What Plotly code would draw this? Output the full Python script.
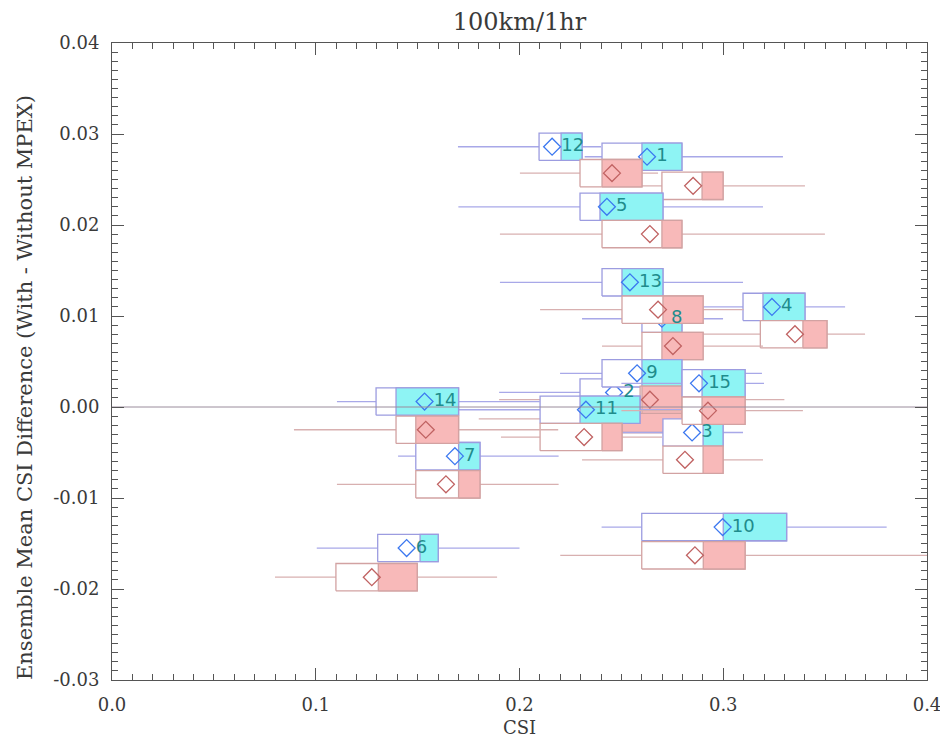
import plotly.graph_objects as go

# ---------------- data ----------------
cases = [1, 2, 3, 4, 5, 6, 7, 8, 9, 10, 11, 12, 13, 14, 15]

# "With MPEX" (blue) boxes: whisker min, box low, split, box high, whisker max, diamond x, diamond y
blue_wmin = [0.232, 0.190, 0.240, 0.285, 0.170, 0.1005, 0.1404, 0.2307, 0.2199, 0.2403, 0.170, 0.1698, 0.1904, 0.1104, 0.250]
blue_lo   = [0.2405, 0.2297, 0.2704, 0.3097, 0.2297, 0.1304, 0.1491, 0.2601, 0.2405, 0.2600, 0.2101, 0.2096, 0.2405, 0.1296, 0.2798]
blue_mid  = [0.2601, 0.2620, 0.2901, 0.3195, 0.2395, 0.1512, 0.1701, 0.2699, 0.2601, 0.3000, 0.2297, 0.2204, 0.2503, 0.1394, 0.2896]
blue_hi   = [0.2797, 0.2800, 0.2999, 0.3401, 0.2704, 0.1601, 0.1806, 0.2797, 0.2797, 0.3311, 0.2591, 0.2307, 0.2704, 0.1701, 0.3107]
blue_wmax = [0.3293, 0.300, 0.3097, 0.3598, 0.3195, 0.200, 0.2192, 0.2999, 0.3190, 0.3802, 0.290, 0.240, 0.3097, 0.210, 0.320]
blue_mean = [0.2626, 0.2464, 0.2847, 0.3239, 0.2429, 0.1446, 0.1683, 0.2699, 0.2577, 0.2997, 0.2326, 0.2160, 0.2542, 0.1534, 0.2881]
blue_y    = [0.0275, 0.0016, -0.0028, 0.0110, 0.0220, -0.0155, -0.0054, 0.0097, 0.0037, -0.0132, -0.0003, 0.0286, 0.0137, 0.0006, 0.0026]

# "Without MPEX" (red) boxes
red_wmin = [0.250, 0.180, 0.2307, 0.280, 0.1904, 0.080, 0.1104, 0.2405, 0.190, 0.220, 0.1909, 0.2002, 0.2101, 0.0893, 0.250]
red_lo   = [0.2699, 0.235, 0.2704, 0.3182, 0.2405, 0.1099, 0.1491, 0.2601, 0.2592, 0.2600, 0.2101, 0.2297, 0.2503, 0.1394, 0.2798]
red_mid  = [0.2896, 0.2503, 0.2901, 0.3391, 0.2699, 0.1307, 0.1701, 0.2699, 0.2601, 0.2902, 0.2405, 0.2405, 0.2704, 0.1491, 0.2896]
red_hi   = [0.2999, 0.2797, 0.2999, 0.3509, 0.2797, 0.1498, 0.1806, 0.2901, 0.2797, 0.3107, 0.2503, 0.2601, 0.2901, 0.1701, 0.3107]
red_wmax = [0.3401, 0.310, 0.3195, 0.3696, 0.3499, 0.189, 0.2192, 0.3195, 0.330, 0.400, 0.270, 0.268, 0.310, 0.219, 0.3391]
red_mean = [0.2852, 0.245, 0.2812, 0.3352, 0.2640, 0.1275, 0.1639, 0.2753, 0.2640, 0.2861, 0.2317, 0.2454, 0.2680, 0.1540, 0.2925]
red_y    = [0.0243, -0.0013, -0.0058, 0.0080, 0.0190, -0.0187, -0.0085, 0.0067, 0.0008, -0.0163, -0.0033, 0.0257, 0.0107, -0.0025, -0.0004]

x_ticks = [0.0, 0.1, 0.2, 0.3, 0.4]
x_ticktext = ["0.0", "0.1", "0.2", "0.3", "0.4"]
y_ticks = [-0.03, -0.02, -0.01, 0.0, 0.01, 0.02, 0.03, 0.04]
y_ticktext = ["-0.03", "-0.02", "-0.01", "0.00", "0.01", "0.02", "0.03", "0.04"]

# ---------------- style ----------------
HALF_H = 0.0015
BLUE_FILL, BLUE_EDGE, BLUE_WHISK, BLUE_DIAM = "#8ef4f4", "#9c9ce0", "#a8a8e8", "#3c78f0"
RED_FILL, RED_EDGE, RED_WHISK, RED_DIAM = "#f8b9b9", "#d2a2a2", "#d8b0b0", "#c06262"
LABEL_COLOR = "#1f8c8c"
AXIS_COLOR = "#555555"
SERIF = "DejaVu Serif"
TEXT_COLOR = "#3a3a3a"
DIAMOND = dict(symbol="diamond-open", size=13)

# figure geometry (page body has an 8px margin; 932x731 figure -> 948x747 page)
W, H = 932, 731
ML, MR, MT, MB = 104, 13, 35, 59
PW, PH = W - ML - MR, H - MT - MB

fig = go.Figure()


def add_rect(x0, x1, yc, fill, edge):
    fig.add_trace(go.Scatter(
        x=[x0, x1, x1, x0, x0],
        y=[yc - HALF_H, yc - HALF_H, yc + HALF_H, yc + HALF_H, yc - HALF_H],
        mode="lines", fill="toself", fillcolor=fill,
        line=dict(color=edge, width=1.3),
        hoverinfo="skip", showlegend=False))


def add_box(wmin, lo, mid, hi, wmax, mean, yc, fill, edge, whisk, diam):
    fig.add_trace(go.Scatter(x=[wmin, wmax], y=[yc, yc], mode="lines",
                             line=dict(color=whisk, width=1.3),
                             hoverinfo="skip", showlegend=False))
    add_rect(lo, hi, yc, "white", edge)
    add_rect(mid, hi, yc, fill, edge)
    fig.add_trace(go.Scatter(x=[mean], y=[yc], mode="markers",
                             marker=dict(**DIAMOND, color=diam, line=dict(width=1.3, color=diam)),
                             hoverinfo="skip", showlegend=False))


for i, c in enumerate(cases):
    add_box(blue_wmin[i], blue_lo[i], blue_mid[i], blue_hi[i], blue_wmax[i],
            blue_mean[i], blue_y[i], BLUE_FILL, BLUE_EDGE, BLUE_WHISK, BLUE_DIAM)
    add_box(red_wmin[i], red_lo[i], red_mid[i], red_hi[i], red_wmax[i],
            red_mean[i], red_y[i], RED_FILL, RED_EDGE, RED_WHISK, RED_DIAM)

# zero reference line across the plot
fig.add_trace(go.Scatter(x=[x_ticks[0], x_ticks[-1]], y=[0, 0], mode="lines",
                         line=dict(color="#9a8c9c", width=1),
                         hoverinfo="skip", showlegend=False))

# case-number labels drawn on top of everything, right of the blue diamonds
fig.add_trace(go.Scatter(x=blue_mean, y=blue_y, mode="markers+text",
                         text=[str(c) for c in cases], textposition="middle right",
                         textfont=dict(family="DejaVu Sans", size=18, color=LABEL_COLOR),
                         marker=dict(**DIAMOND, color="rgba(0,0,0,0)"),
                         hoverinfo="skip", showlegend=False))

axis_common = dict(
    showgrid=False, zeroline=False, showline=True, linecolor=AXIS_COLOR, linewidth=1,
    mirror="ticks", ticks="inside", ticklen=12, tickcolor=AXIS_COLOR, tickwidth=1,
    tickfont=dict(family=SERIF, size=18, color=TEXT_COLOR), ticklabeloverflow="allow",
    automargin=False,
)

fig.update_layout(
    width=W, height=H,
    margin=dict(l=ML, r=MR, t=MT, b=MB, autoexpand=False),
    paper_bgcolor="white", plot_bgcolor="white",
    title=dict(text="100km/1hr", x=0.5, xref="paper", y=1 - 14 / H, yref="container",
               yanchor="middle", xanchor="center",
               font=dict(family=SERIF, size=24, color=TEXT_COLOR)),
    xaxis=dict(range=[0, 0.4], tickvals=x_ticks, ticktext=x_ticktext,
               minor=dict(dtick=0.01, tick0=0, ticks="inside", ticklen=6, tickcolor=AXIS_COLOR),
               ticklabelstandoff=8, **axis_common),
    yaxis=dict(range=[-0.03, 0.04], tickvals=y_ticks, ticktext=y_ticktext,
               minor=dict(dtick=0.001, tick0=0, ticks="inside", ticklen=6, tickcolor=AXIS_COLOR),
               ticklabelstandoff=8, **axis_common),
    annotations=[
        dict(text="Ensemble Mean CSI Difference (With - Without MPEX)",
             textangle=-90, xref="paper", yref="paper",
             x=(17 - ML) / PW, y=1 - (380 - MT) / PH,
             xanchor="center", yanchor="middle", showarrow=False,
             font=dict(family=SERIF, size=21, color=TEXT_COLOR)),
        dict(text="CSI", xref="paper", yref="paper",
             x=0.5, y=(H - MB - 719) / PH,
             xanchor="center", yanchor="middle", showarrow=False,
             font=dict(family=SERIF, size=18, color=TEXT_COLOR)),
    ],
)

fig.write_html("out.html")
